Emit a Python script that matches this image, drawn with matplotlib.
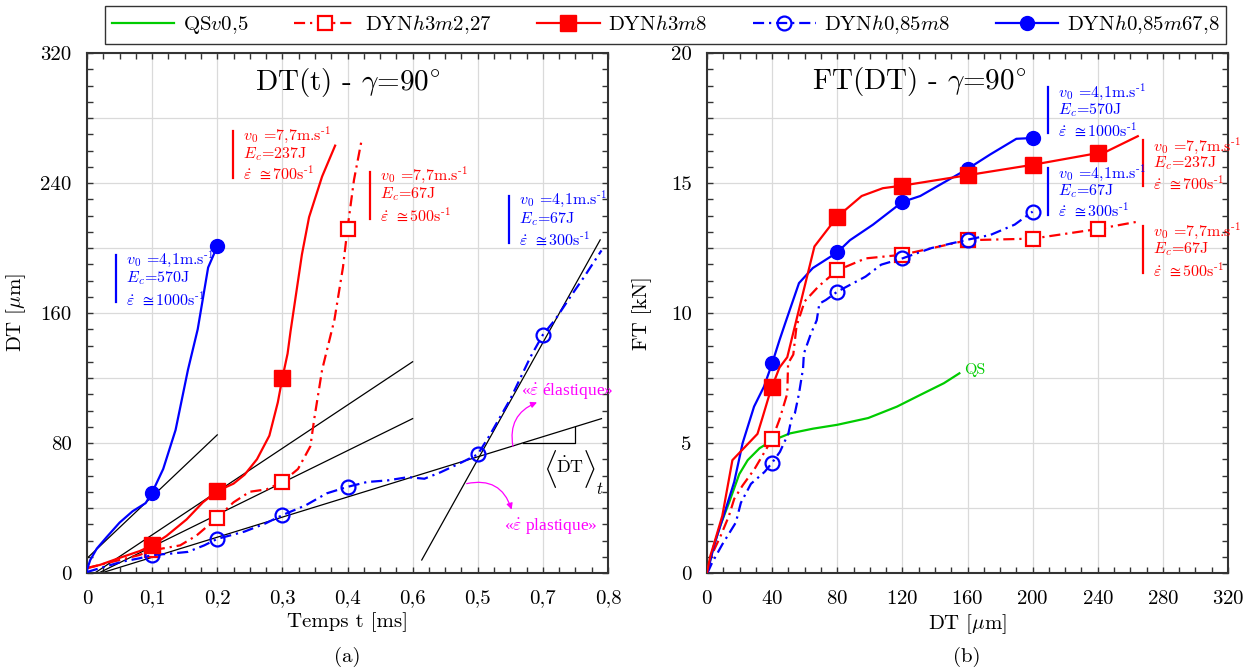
import numpy as np
import matplotlib
matplotlib.use("Agg")
import matplotlib.pyplot as plt
from matplotlib.lines import Line2D
from matplotlib.ticker import MultipleLocator, FixedLocator

plt.rcParams['font.family'] = ['cmr10', 'DejaVu Serif']
plt.rcParams['mathtext.fontset'] = 'cm'
plt.rcParams['axes.unicode_minus'] = False
plt.rcParams['axes.formatter.use_mathtext'] = True

# =========================
# Data : (a) DT(t)
# =========================
t_h085m678 = [0, 0.005, 0.015, 0.03, 0.05, 0.07, 0.09, 0.1, 0.117, 0.136, 0.155, 0.17, 0.178, 0.186, 0.2]
dt_h085m678 = [2, 8, 15, 22, 31, 38, 43, 49.5, 64, 88, 125, 150, 169, 188, 201]

t_h3m8 = [0, 0.02, 0.05, 0.081, 0.1, 0.122, 0.153, 0.178, 0.2, 0.225, 0.242, 0.261, 0.28, 0.293,
          0.3, 0.308, 0.3125, 0.33, 0.341, 0.361, 0.381]
dt_h3m8 = [3, 5, 9.3, 13.5, 17, 22.8, 33, 43.5, 50.4, 55, 60.5, 70, 84.5, 105,
           120, 135, 148.6, 196, 219, 244, 263]

t_h3m227 = [0, 0.02, 0.05, 0.08, 0.1, 0.122, 0.143, 0.168, 0.2, 0.225, 0.25, 0.276, 0.3, 0.324,
            0.343, 0.349, 0.361, 0.38, 0.393, 0.4, 0.41, 0.421]
dt_h3m227 = [3, 5, 8, 11, 14, 15.5, 17, 23, 34, 43.5, 50, 51.5, 56, 64,
             78, 95, 125, 156, 188, 212, 242, 265]

t_h085m8 = [0, 0.02, 0.054, 0.08, 0.1, 0.13, 0.155, 0.18, 0.2, 0.242, 0.274, 0.3, 0.336, 0.368, 0.4,
            0.43, 0.462, 0.493, 0.518, 0.543, 0.575, 0.6, 0.618, 0.65, 0.681, 0.7, 0.719, 0.744,
            0.763, 0.79]
dt_h085m8 = [0.6, 3, 7, 9, 11, 12, 13, 17, 21, 25.5, 30.5, 35.6, 41.7, 49, 53,
             56, 57, 59, 58, 62, 68, 73, 84.5, 107, 133, 146.6, 156, 171,
             182, 198.5]

marks_t_h085m678 = [0.1, 0.2]
marks_t_h3m8 = [0.1, 0.2, 0.3]
marks_t_h3m227 = [0.1, 0.2, 0.3, 0.4]
marks_t_h085m8 = [0.1, 0.2, 0.3, 0.4, 0.6, 0.7]

# tangentes
tan_t = [[0, 0.2], [0.012, 0.5], [0.018, 0.5], [0.022, 0.79], [0.514, 0.788]]
tan_dt = [[9, 85], [0, 130], [0, 95], [0, 95], [8, 205]]
tri_t = [0.669, 0.75]

x_ticks_a = [0, 0.1, 0.2, 0.3, 0.4, 0.5, 0.6, 0.7, 0.8]
x_labels_a = ["0", "0,1", "0,2", "0,3", "0,4", "0,6", "0,5", "0,7", "0,8"]
y_ticks_a = [0, 40, 80, 120, 160, 200, 240, 280, 320]
y_labels_a = ["0", "", "80", "", "160", "", "240", "", "320"]

# =========================
# Data : (b) FT(DT)
# =========================
dtb_qs = [0, 1, 4.2, 8, 13.5, 19.8, 25, 32.3, 39.6, 51, 65, 80, 99, 116.7, 131, 145.5, 155]
ft_qs = [0.06, 0.26, 1.04, 1.8, 2.7, 3.8, 4.34, 4.8, 5.08, 5.37, 5.55, 5.7, 5.96, 6.4, 6.85, 7.3, 7.68]

dtb_h3m8 = [0, 2, 4.2, 9.4, 15.6, 31, 34, 38.5, 40, 44.5, 49.3, 54, 66, 80, 95, 108, 120,
            160, 200, 240, 245, 264.6]
ft_h3m8 = [0, 0.65, 1.1, 2.2, 4.34, 5.35, 5.96, 6.9, 7.17, 7.9, 8.3, 9.5, 12.56, 13.7, 14.5, 14.8, 14.9,
           15.3, 15.7, 16.15, 16.2, 16.8]

dtb_h3m227 = [0, 3.6, 8.4, 13.5, 16.7, 21.9, 29.2, 35.4, 40, 44.5, 49.3, 49.8, 53, 55, 60, 68.6,
              80, 97.4, 120, 160, 200, 240, 266]
ft_h3m227 = [0, 0.79, 1.43, 2.2, 2.85, 3.37, 4.0, 4.66, 5.15, 5.9, 6.9, 8.06, 8.4, 9.5, 10.45, 11.03,
             11.64, 12.1, 12.24, 12.8, 12.86, 13.23, 13.53]

dtb_h085m678 = [0, 1, 4.2, 11.5, 16.7, 21.9, 28.9, 35, 40, 44.5, 48, 56.5, 65, 80, 87.8, 102,
                120, 131, 160, 174, 190, 200]
ft_h085m678 = [0, 0.2, 1.04, 2.46, 3.5, 5.0, 6.4, 7.17, 8.06, 8.95, 9.6, 11.15, 11.73, 12.33, 12.8, 13.4,
               14.27, 14.5, 15.54, 16.1, 16.7, 16.73]

dtb_h085m8 = [0, 1, 3.1, 9.4, 17.7, 20.8, 27, 35.4, 40, 44.8, 50, 52, 54, 56.5, 59, 59.5, 63.8,
              67.4, 69, 73, 80, 97.4, 107, 120, 138, 160, 174, 189, 200]
ft_h085m8 = [0, 0.1, 0.39, 1.1, 1.94, 2.7, 3.43, 3.89, 4.24, 4.66, 5.37, 5.96, 6.15, 6.9, 7.87, 8.44, 9.2,
             9.72, 10.36, 10.5, 10.82, 11.4, 11.86, 12.1, 12.5, 12.82, 13.0, 13.4, 13.9]

marks_b_red = [40, 80, 120, 160, 200, 240]
marks_b_blue = [40, 80, 120, 160, 200]

y_ticks_b = [0, 2.5, 5, 7.5, 10, 12.5, 15, 17.5, 20]
y_labels_b = ["0", "", "5", "", "10", "", "15", "", "20"]

legend_labels = ["QS$v$0,5", "DYN$h$3$m$2,27", "DYN$h$3$m$8", "DYN$h$0,85$m$8", "DYN$h$0,85$m$67,8"]

# =========================
# Styles
# =========================
RED = "#ff0000"
BLUE = "#0000ff"
GREEN = "#00cc00"
MAGENTA = "#ff00ff"
DASHDOT = (0, (5, 2.2, 1, 2.2))
LW = 1.6

STYLES = {
    "qs": dict(color=GREEN, lw=LW, ls="-"),
    "h3m227": dict(color=RED, lw=LW, ls=DASHDOT, marker="s", ms=10, mfc="white", mec=RED, mew=1.6),
    "h3m8": dict(color=RED, lw=LW, ls="-", marker="s", ms=11, mfc=RED, mec=RED),
    "h085m8": dict(color=BLUE, lw=LW, ls=DASHDOT, marker="o", ms=10, mfc="none", mec=BLUE, mew=1.6),
    "h085m678": dict(color=BLUE, lw=LW, ls="-", marker="o", ms=10, mfc=BLUE, mec=BLUE),
}


def idx(x, marks):
    x = list(x)
    return [x.index(m) for m in marks]


def style_axes(ax):
    ax.grid(True, which="major", color="#dadada", lw=0.9)
    ax.set_axisbelow(True)
    ax.tick_params(which="both", direction="in", top=True, right=True, length=4,
                   width=1, color="#333333", labelsize=15)
    ax.tick_params(axis="x", pad=12)
    ax.tick_params(axis="y", pad=11)
    for s in ax.spines.values():
        s.set_color("#333333")
        s.set_linewidth(1.5)


def note(ax, x, y0, y1, ys, texts, color):
    ax.plot([x, x], [y0, y1], color=color, lw=1.6, clip_on=False)
    for y, s in zip(ys, texts):
        ax.text(x, y, "  " + s, color=color, fontsize=11.5, va="center", ha="left", clip_on=False)


def note_texts(v, e, rate):
    return [r"$v_0$ =" + v + r"m.s$^{\text{-1}}$",
            r"$E_c$=" + e + "J",
            r"$\dot{\varepsilon}$ $\cong$" + rate + r"s$^{\text{-1}}$"]


# =========================
# (a) DT(t)
# =========================
def plot_dt_t(ax):
    style_axes(ax)
    for tt, dd in zip(tan_t, tan_dt):
        ax.plot(tt, dd, color="black", lw=0.9, zorder=2)
    # petit triangle de pente
    top = np.interp(tri_t[1], tan_t[3], tan_dt[3])
    base = np.interp(tri_t[0], tan_t[3], tan_dt[3])
    ax.plot([tri_t[0], tri_t[1], tri_t[1]], [base, base, top], color="black", lw=0.9)

    ax.plot(t_h3m227, dt_h3m227, markevery=idx(t_h3m227, marks_t_h3m227), zorder=3, **STYLES["h3m227"])
    ax.plot(t_h085m8, dt_h085m8, markevery=idx(t_h085m8, marks_t_h085m8), zorder=3, **STYLES["h085m8"])
    ax.plot(t_h3m8, dt_h3m8, markevery=idx(t_h3m8, marks_t_h3m8), zorder=4, **STYLES["h3m8"])
    ax.plot(t_h085m678, dt_h085m678, markevery=idx(t_h085m678, marks_t_h085m678), zorder=4,
            **STYLES["h085m678"])

    ax.set_xlim(0, 0.8)
    ax.set_ylim(0, 320)
    ax.xaxis.set_major_locator(FixedLocator(x_ticks_a))
    ax.set_xticklabels(x_labels_a)
    ax.xaxis.set_minor_locator(MultipleLocator(0.025))
    ax.yaxis.set_major_locator(FixedLocator(y_ticks_a))
    ax.set_yticklabels(y_labels_a)
    ax.yaxis.set_minor_locator(MultipleLocator(10))

    ax.set_xlabel("Temps t [ms]", fontsize=15)
    ax.set_ylabel(r"DT [$\mu$m]", fontsize=15)
    ax.xaxis.set_label_coords(0.5, -0.075)
    ax.yaxis.set_label_coords(-0.113, 0.5)

    ax.text(0.4, 302, r"DT(t) - $\gamma$=90$^{\circ}$", fontsize=21, ha="center", va="center")

    note(ax, 0.045, 167, 196, [193.5, 181.5, 169], note_texts("4,1", "570", "1000"), BLUE)
    note(ax, 0.224, 243, 272, [269.5, 258, 246], note_texts("7,7", "237", "700"), RED)
    note(ax, 0.435, 218, 247, [245, 233, 220.5], note_texts("7,7", "67", "500"), RED)
    note(ax, 0.648, 203, 232, [230, 218, 205.5], note_texts("4,1", "67", "300"), BLUE)

    # < DT >_t
    ax.text(0.722, 64, r"$\langle$", fontsize=22, ha="right", va="center")
    ax.text(0.741, 66, r"$\dot{\mathrm{D}}\mathrm{T}$", fontsize=13, ha="center", va="center")
    ax.text(0.760, 64, r"$\rangle$", fontsize=22, ha="left", va="center")
    ax.text(0.782, 52, r"$t$", fontsize=12, ha="left", va="center")

    ax.text(0.737, 111.5, r"«$\dot{\varepsilon}$ élastique»", color=MAGENTA, fontsize=12.5,
            family=["Liberation Serif"], ha="center", va="center")
    ax.text(0.712, 28.5, r"«$\dot{\varepsilon}$ plastique»", color=MAGENTA, fontsize=12.5,
            family=["Liberation Serif"], ha="center", va="center")
    ax.annotate("", xy=(0.691, 105), xytext=(0.654, 78),
                arrowprops=dict(arrowstyle="-|>", color=MAGENTA, lw=0.9, mutation_scale=9,
                                connectionstyle="arc3,rad=-0.4", shrinkA=0, shrinkB=0))
    ax.annotate("", xy=(0.652, 39), xytext=(0.583, 55),
                arrowprops=dict(arrowstyle="-|>", color=MAGENTA, lw=0.9, mutation_scale=9,
                                connectionstyle="arc3,rad=-0.45", shrinkA=0, shrinkB=0))


# =========================
# (b) FT(DT)
# =========================
def plot_ft_dt(ax):
    style_axes(ax)
    ax.plot(dtb_qs, ft_qs, zorder=3, **STYLES["qs"])
    ax.plot(dtb_h3m227, ft_h3m227, markevery=idx(dtb_h3m227, marks_b_red), zorder=3, **STYLES["h3m227"])
    ax.plot(dtb_h085m8, ft_h085m8, markevery=idx(dtb_h085m8, marks_b_blue), zorder=3, **STYLES["h085m8"])
    ax.plot(dtb_h085m678, ft_h085m678, markevery=idx(dtb_h085m678, marks_b_blue), zorder=4,
            **STYLES["h085m678"])
    ax.plot(dtb_h3m8, ft_h3m8, markevery=idx(dtb_h3m8, marks_b_red), zorder=4, **STYLES["h3m8"])

    ax.set_xlim(0, 320)
    ax.set_ylim(0, 20)
    ax.xaxis.set_major_locator(MultipleLocator(40))
    ax.xaxis.set_minor_locator(MultipleLocator(10))
    ax.yaxis.set_major_locator(FixedLocator(y_ticks_b))
    ax.set_yticklabels(y_labels_b)
    ax.yaxis.set_minor_locator(MultipleLocator(0.625))

    ax.set_xlabel(r"DT [$\mu$m]", fontsize=15)
    ax.set_ylabel("FT [kN]", fontsize=15)
    ax.xaxis.set_label_coords(0.5, -0.075)
    ax.yaxis.set_label_coords(-0.105, 0.5)

    ax.text(130.5, 18.9, r"FT(DT) - $\gamma$=90$^{\circ}$", fontsize=21, ha="center", va="center")
    ax.text(158, 7.8, "QS", color=GREEN, fontsize=11.5, va="center")

    note(ax, 209.3, 16.92, 18.69, [18.5, 17.8, 17.05], note_texts("4,1", "570", "1000"), BLUE)
    note(ax, 267.5, 14.87, 16.67, [16.45, 15.75, 15.0], note_texts("7,7", "237", "700"), RED)
    note(ax, 209.3, 13.78, 15.58, [15.4, 14.7, 13.95], note_texts("4,1", "67", "300"), BLUE)
    note(ax, 267.5, 11.54, 13.33, [13.15, 12.45, 11.65], note_texts("7,7", "67", "500"), RED)


def main():
    fig = plt.figure(figsize=(12.52, 6.70), dpi=100)
    ax_a = fig.add_axes([87 / 1252, 97 / 670, 521 / 1252, 520 / 670])
    ax_b = fig.add_axes([707 / 1252, 97 / 670, 521 / 1252, 520 / 670])

    plot_dt_t(ax_a)
    plot_ft_dt(ax_b)

    fig.text(347 / 1252, 1 - 657 / 670, "(a)", fontsize=15, ha="center", va="center")
    fig.text(967 / 1252, 1 - 657 / 670, "(b)", fontsize=15, ha="center", va="center")

    keys = ["qs", "h3m227", "h3m8", "h085m8", "h085m678"]
    handles = [Line2D([], [], **STYLES[k]) for k in keys]
    leg = fig.legend(handles, legend_labels, loc="center", bbox_to_anchor=(665.5 / 1252, 1 - 25 / 670),
                     ncol=5, fontsize=15, frameon=True, fancybox=False, edgecolor="black",
                     handlelength=3.0, handletextpad=0.4, columnspacing=2.2, borderpad=0.35,
                     numpoints=1)
    leg.get_frame().set_linewidth(1.0)

    fig.savefig("out.png", dpi=100)
    plt.close(fig)


if __name__ == "__main__":
    main()
